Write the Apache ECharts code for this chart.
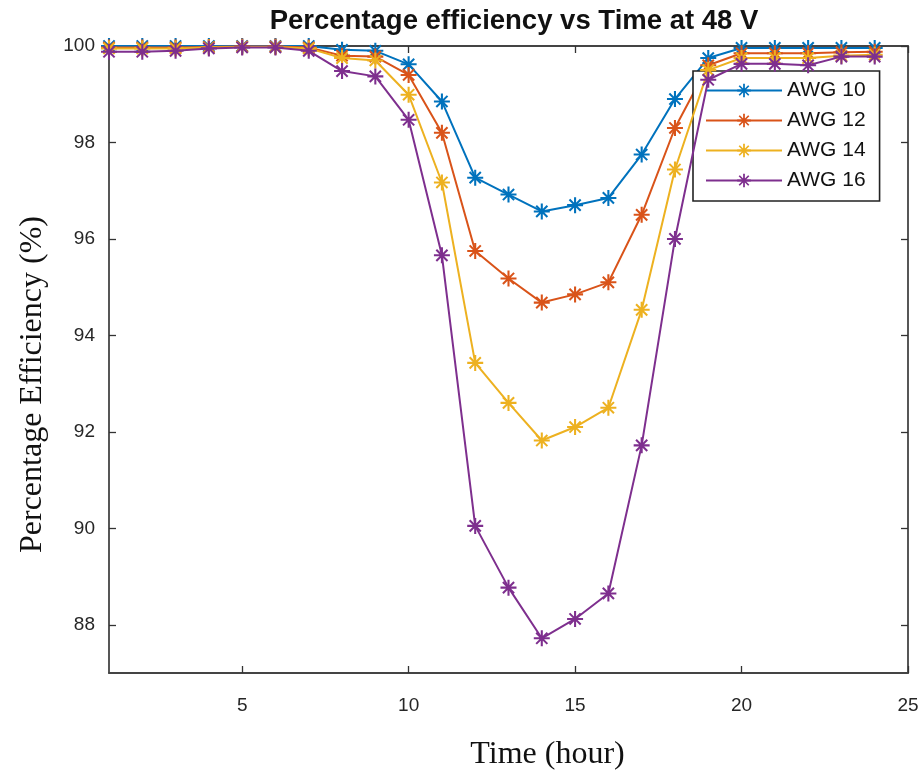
<!DOCTYPE html>
<html>
<head>
<meta charset="utf-8">
<script src="https://cdn.jsdelivr.net/npm/echarts@6/dist/echarts.min.js"></script>
<style>
  html, body { margin: 0; padding: 0; background: #fff; }
  #chart { width: 923px; height: 780px; }
</style>
</head>
<body>
<div id="chart"></div>
<script>
// hour of day
const hours = [1, 2, 3, 4, 5, 6, 7, 8, 9, 10, 11, 12, 13, 14, 15, 16, 17, 18, 19, 20, 21, 22, 23, 24]
// efficiency (%) per wire gauge
const awg10 = [100, 100, 100, 100, 100, 100, 100, 99.92, 99.9, 99.62, 98.85, 97.27, 96.92, 96.57, 96.7, 96.85, 97.75, 98.9, 99.75, 99.96, 99.96, 99.96, 99.96, 99.96]
const awg12 = [99.97, 99.97, 99.97, 99.98, 99.99, 99.99, 99.97, 99.8, 99.78, 99.4, 98.2, 95.75, 95.18, 94.68, 94.85, 95.1, 96.5, 98.3, 99.6, 99.85, 99.85, 99.85, 99.87, 99.88]
const awg14 = [99.95, 99.95, 99.95, 99.97, 99.98, 99.98, 99.95, 99.75, 99.7, 98.99, 97.17, 93.43, 92.6, 91.82, 92.1, 92.5, 94.53, 97.44, 99.5, 99.75, 99.75, 99.75, 99.8, 99.82]
const awg16 = [99.88, 99.88, 99.9, 99.95, 99.97, 99.97, 99.9, 99.48, 99.37, 98.47, 95.66, 90.05, 88.77, 87.72, 88.12, 88.65, 91.72, 96.0, 99.3, 99.63, 99.63, 99.6, 99.78, 99.78]
const seriesNames = ['AWG 10', 'AWG 12', 'AWG 14', 'AWG 16']
const xTicks = [5, 10, 15, 20, 25]
const yTicks = [88, 90, 92, 94, 96, 98, 100]

const colors = ['#0072BD', '#D95319', '#EDB120', '#7E2F8E']
// MATLAB style asterisk marker (+ and x together)
const star = 'path://M0 8.7L20 8.7L20 11.3L0 11.3Z M8.7 0L11.3 0L11.3 20L8.7 20Z ' +
  'M2.1 3.9L3.9 2.1L17.9 16.1L16.1 17.9Z M16.1 2.1L17.9 3.9L3.9 17.9L2.1 16.1Z'

const pairs = vals => hours.map((h, i) => [h, vals[i]])

const tickStyle = { color: '#333', width: 1.3 }
const lineStyle = { color: '#444', width: 1.8 }

let myChart = echarts.init(document.getElementById('chart'))
myChart.setOption({
  backgroundColor: '#fff',
  animation: false,
  color: colors,
  title: {
    text: 'Percentage efficiency vs Time at 48 V',
    left: 509,
    textAlign: 'center',
    top: 2,
    textStyle: {
      fontFamily: 'Liberation Sans',
      fontWeight: 'bold',
      fontSize: 27.5,
      color: '#111'
    }
  },
  grid: {
    left: 109,
    right: 15,
    top: 46,
    bottom: 107
  },
  legend: {
    left: 693,
    top: 71,
    orient: 'vertical',
    backgroundColor: '#fff',
    borderColor: '#222',
    borderWidth: 1.6,
    borderRadius: 0,
    padding: [9, 14, 10, 12],
    itemWidth: 76,
    itemHeight: 17,
    itemGap: 9,
    textStyle: {
      fontFamily: 'Liberation Sans',
      fontSize: 21,
      color: '#111'
    },
    data: seriesNames
  },
  xAxis: [{
    type: 'value',
    min: 1,
    max: 25,
    name: 'Time (hour)',
    nameLocation: 'middle',
    nameGap: 66,
    nameTextStyle: {
      fontFamily: 'Liberation Serif',
      fontSize: 32,
      color: '#111',
      padding: [0, 0, 0, 78]
    },
    axisLine: { lineStyle: lineStyle },
    axisTick: { inside: true, length: 7, customValues: xTicks, lineStyle: tickStyle },
    axisLabel: {
      customValues: xTicks,
      margin: 23,
      fontFamily: 'Liberation Sans',
      fontSize: 19,
      color: '#262626'
    },
    splitLine: { show: false }
  }, {
    type: 'value',
    position: 'top',
    min: 1,
    max: 25,
    axisLine: { lineStyle: lineStyle },
    axisTick: { inside: true, length: 7, customValues: xTicks, lineStyle: tickStyle },
    axisLabel: { show: false },
    splitLine: { show: false }
  }],
  yAxis: [{
    type: 'value',
    min: 87,
    max: 100,
    name: 'Percentage Efficiency (%)',
    nameLocation: 'middle',
    nameGap: 60,
    nameTextStyle: {
      fontFamily: 'Liberation Serif',
      fontSize: 32,
      color: '#111',
      padding: [0, 50, 0, 0]
    },
    axisLine: { show: true, lineStyle: lineStyle },
    axisTick: { show: true, inside: true, length: 7, customValues: yTicks, lineStyle: tickStyle },
    axisLabel: {
      customValues: yTicks,
      margin: 14,
      fontFamily: 'Liberation Sans',
      fontSize: 19,
      color: '#262626'
    },
    splitLine: { show: false }
  }, {
    type: 'value',
    position: 'right',
    min: 87,
    max: 100,
    axisLine: { show: true, lineStyle: lineStyle },
    axisTick: { show: true, inside: true, length: 7, customValues: yTicks, lineStyle: tickStyle },
    axisLabel: { show: false },
    splitLine: { show: false }
  }],
  series: [awg10, awg12, awg14, awg16].map((vals, i) => ({
    name: seriesNames[i],
    type: 'line',
    data: pairs(vals),
    symbol: star,
    symbolSize: 16,
    showAllSymbol: true,
    lineStyle: { width: 2, color: colors[i] },
    itemStyle: { color: colors[i] },
    z: 2 + i
  }))
})
</script>
</body>
</html>
